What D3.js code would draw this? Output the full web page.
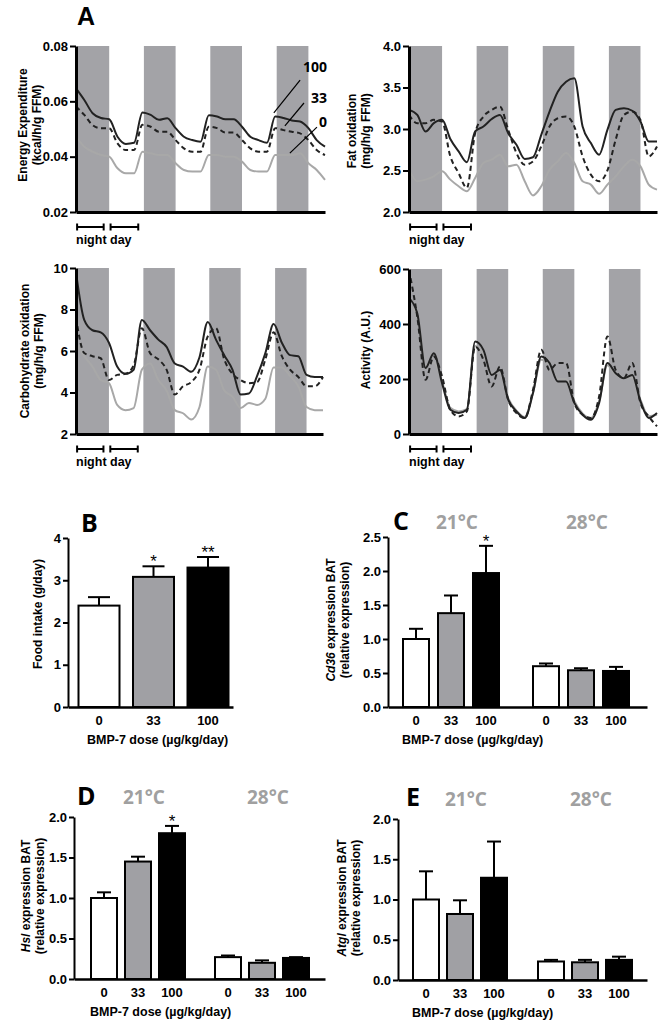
<!DOCTYPE html>
<html>
<head>
<meta charset="utf-8">
<script src="https://cdn.jsdelivr.net/npm/d3@7"></script>
<style>
  body { margin: 0; background: #fff; }
  svg text { font-family: 'Liberation Sans', Arial, sans-serif; font-weight: bold; }
</style>
</head>
<body>
<svg id="fig" width="664" height="1029"></svg>
<script>
// time grid (hours) and night periods
var hours = [0,3,6,9,12,15,18,21,24,27,30,33,36,39,42,45,48,51,54,57,60,63,66,69,72,75,78,81,84,87,90];
var nights = [0, 24, 48, 72];

// energy expenditure (kcal/h/g FFM)
var ee100 = [.0647,.0605,.0557,.0540,.0535,.0472,.0446,.0450,.0560,.0551,.0533,.0539,.0503,.0472,.0460,.0454,.0550,.0545,.0535,.0535,.0508,.0472,.0460,.0450,.0545,.0540,.0531,.0527,.0503,.0460,.0436];
var ee33  = [.0581,.0551,.0514,.0503,.0503,.0448,.0424,.0424,.0515,.0508,.0490,.0490,.0460,.0430,.0418,.0418,.0508,.0503,.0487,.0487,.0460,.0430,.0418,.0418,.0503,.0496,.0490,.0484,.0460,.0424,.0406];
var ee0   = [.0472,.0436,.0418,.0406,.0400,.0358,.0340,.0340,.0418,.0412,.0406,.0406,.0376,.0352,.0346,.0346,.0406,.0406,.0400,.0400,.0382,.0352,.0346,.0346,.0406,.0406,.0406,.0412,.0376,.0352,.0316];

// fat oxidation (mg/h/g FFM)
var fat100 = [3.23,3.17,2.97,3.07,3.11,2.88,2.73,2.60,2.97,3.03,3.12,3.17,2.95,2.81,2.64,2.66,2.93,3.21,3.45,3.57,3.61,3.03,2.83,2.69,2.99,3.23,3.25,3.22,3.09,2.85,2.85];
var fat33  = [3.17,3.07,3.07,3.11,3.09,2.67,2.47,2.29,2.95,3.15,3.23,3.27,2.99,2.71,2.57,2.61,2.79,3.03,3.13,3.15,3.03,2.67,2.45,2.37,2.50,2.87,3.17,3.21,3.11,2.67,2.79];
var fat0   = [2.51,2.37,2.39,2.43,2.49,2.39,2.31,2.25,2.41,2.59,2.63,2.69,2.55,2.57,2.37,2.20,2.31,2.51,2.61,2.71,2.59,2.37,2.33,2.22,2.33,2.43,2.55,2.63,2.55,2.33,2.27];

// carbohydrate oxidation (mg/h/g FFM)
var carb100 = [9.8,7.5,7.0,6.9,6.4,5.25,4.9,5.1,7.5,7.0,6.55,6.2,5.4,5.25,5.0,5.7,7.4,6.55,5.8,5.1,3.9,3.95,4.8,5.9,7.3,6.4,5.8,5.75,4.85,4.75,4.75];
var carb33  = [7.6,5.9,5.75,5.65,4.6,4.85,4.9,5.3,7.1,5.9,5.6,5.1,3.9,4.3,4.5,5.1,6.7,7.1,5.6,4.9,4.6,4.45,4.5,5.6,6.9,5.75,5.1,4.75,4.3,4.3,4.75];
var carb0   = [6.4,5.75,5.25,4.6,4.45,3.4,3.15,3.25,5.1,5.4,4.6,4.1,3.15,3.0,2.7,3.3,5.25,5.1,4.1,3.8,3.25,3.5,3.4,3.7,5.2,5.2,4.8,4.3,3.3,3.15,3.15];

// activity (A.U.)
var act100 = [494,439,240,294,185,88,76,88,336,306,215,233,125,82,58,149,282,258,191,191,113,70,52,113,258,221,203,215,119,58,76];
var act33  = [596,427,197,282,209,88,64,82,318,270,173,245,125,76,58,161,306,233,258,258,113,70,58,137,355,233,203,258,113,64,28];
var act0   = [470,430,250,260,190,95,82,90,320,290,220,225,130,85,62,150,270,250,200,200,120,75,58,120,250,215,205,205,125,65,70];

// bar charts
var doses = ["0", "33", "100"];
var temps = ["21°C", "28°C"];

var foodMean = [2.40, 3.08, 3.30];
var foodSem  = [0.20, 0.25, 0.25];
var foodStar = ["", "*", "**"];

var cd36Mean21 = [1.00, 1.38, 1.97], cd36Sem21 = [0.15, 0.26, 0.40], cd36Star21 = ["", "", "*"];
var cd36Mean28 = [0.60, 0.54, 0.53], cd36Sem28 = [0.04, 0.03, 0.06];

var hslMean21 = [1.00, 1.45, 1.80], hslSem21 = [0.07, 0.06, 0.09], hslStar21 = ["", "", "*"];
var hslMean28 = [0.27, 0.20, 0.26], hslSem28 = [0.02, 0.03, 0.01];

var atglMean21 = [1.00, 0.82, 1.27], atglSem21 = [0.35, 0.17, 0.45];
var atglMean28 = [0.23, 0.22, 0.25], atglSem28 = [0.02, 0.03, 0.04];

var svg = d3.select('#fig');
var BAND = '#a3a3a7', GREY_LINE = '#a8a8a8';
var barFills = ['#ffffff', '#a0a0a4', '#000000'];

function yLabel(lines, cx, cy, size) {
  var n = lines.length, gap = 14;
  lines.forEach(function(l, i) {
    var t = svg.append('text')
      .attr('transform', 'translate(' + (cx + (i - (n - 1) / 2) * gap) + ',' + cy + ') rotate(-90)')
      .attr('text-anchor', 'middle').attr('dy', '0.35em')
      .style('font-size', (size || 12) + 'px');
    if (typeof l === 'string') t.text(l);
    else l.forEach(function(p) {
      t.append('tspan').text(p[0]).style('font-style', p[1] ? 'italic' : null);
    });
  });
}

function letter(txt, x, y, size, fam) {
  svg.append('text').attr('x', x).attr('y', y).text(txt)
    .style('font-family', fam || "'Open Sans', sans-serif").style('font-weight', 700)
    .style('font-size', (size || 25) + 'px');
}

function styleAxis(g, w) {
  g.select('.domain').attr('stroke-width', w);
  g.selectAll('.tick line').attr('stroke-width', 2);
  g.selectAll('.tick text').style('font-size', '13px').attr('fill', '#000')
    .style('font-family', "'Liberation Sans', Arial, sans-serif").style('font-weight', 'bold');
}

function linePanel(o) {
  var x = d3.scaleLinear().domain([0, 90]).range([o.left, o.right]);
  var y = d3.scaleLinear().domain(o.domain).range([o.bottom, o.top]);
  var g = svg.append('g');

  g.selectAll('rect').data(nights).enter().append('rect')
    .attr('x', function(d) { return x(d) + 1.5; })
    .attr('width', function(d) { return x(d + 12) - x(d) - 1.5; })
    .attr('y', o.top).attr('height', o.bottom - o.top)
    .attr('fill', BAND);

  var line = d3.line()
    .x(function(d, i) { return x(hours[i]); })
    .y(function(d) { return y(d); })
    .curve(d3.curveMonotoneX);

  g.append('path').attr('d', line(o.s0)).attr('fill', 'none')
    .attr('stroke', GREY_LINE).attr('stroke-width', 2);
  g.append('path').attr('d', line(o.s33)).attr('fill', 'none')
    .attr('stroke', '#222').attr('stroke-width', 2).attr('stroke-dasharray', '5,3.5');
  g.append('path').attr('d', line(o.s100)).attr('fill', 'none')
    .attr('stroke', '#222').attr('stroke-width', 2);

  var ya = g.append('g').attr('transform', 'translate(' + o.left + ',0)')
    .call(d3.axisLeft(y).tickValues(o.ticks).tickFormat(o.fmt).tickSize(6).tickPadding(2).tickSizeOuter(0));
  styleAxis(ya, 3);
  var xa = g.append('g').attr('transform', 'translate(0,' + o.bottom + ')')
    .call(d3.axisBottom(x).tickValues([]).tickSizeOuter(0));
  styleAxis(xa, 3);

  // night / day scale bars
  var sy = o.bottom + 15;
  [[0.4, 10], [12.5, 22.5]].forEach(function(b) {
    g.append('line').attr('x1', x(b[0])).attr('x2', x(b[1])).attr('y1', sy).attr('y2', sy)
      .attr('stroke', '#000').attr('stroke-width', 2);
    [b[0], b[1]].forEach(function(e) {
      g.append('line').attr('x1', x(e)).attr('x2', x(e)).attr('y1', sy - 3.5).attr('y2', sy + 3.5)
        .attr('stroke', '#000').attr('stroke-width', 2);
    });
  });
  g.append('text').attr('x', x(0)).attr('y', o.bottom + 32).text('night day')
    .style('font-size', '12.5px');

  yLabel(o.label, o.labelX, o.labelY);
  return { x: x, y: y, g: g };
}

var pEE = linePanel({ left: 76, right: 325, top: 46, bottom: 212, domain: [0.02, 0.08],
  ticks: [0.02, 0.04, 0.06, 0.08], fmt: d3.format('.2f'),
  s100: ee100, s33: ee33, s0: ee0,
  label: ['Energy Expenditure', '(kcal/h/g FFM)'], labelX: 30, labelY: 125 });

linePanel({ left: 409, right: 657, top: 46, bottom: 212, domain: [2, 4],
  ticks: [2, 2.5, 3, 3.5, 4], fmt: d3.format('.1f'),
  s100: fat100, s33: fat33, s0: fat0,
  label: ['Fat oxidation', '(mg/h/g FFM)'], labelX: 359, labelY: 131 });

linePanel({ left: 76, right: 323, top: 268, bottom: 434, domain: [2, 10],
  ticks: [2, 4, 6, 8, 10], fmt: d3.format('d'),
  s100: carb100, s33: carb33, s0: carb0,
  label: ['Carbohydrate oxidation', '(mg/h/g FFM)'], labelX: 32, labelY: 351 });

linePanel({ left: 409, right: 657, top: 269, bottom: 434, domain: [0, 600],
  ticks: [0, 200, 400, 600], fmt: d3.format('d'),
  s100: act100, s33: act33, s0: act0,
  label: ['Activity (A.U.)'], labelX: 366, labelY: 350 });

// dose labels with leader lines in the energy expenditure panel
[{ t: '100', a: [71.5, 0.0558], b: [81, 0.0677], ty: 0.0706 },
 { t: '33',  a: [75.5, 0.0511], b: [82.4, 0.0594], ty: 0.0594 },
 { t: '0',   a: [77.3, 0.0413], b: [87.1, 0.0507], ty: 0.0507 }].forEach(function(d) {
  pEE.g.append('line')
    .attr('x1', pEE.x(d.a[0])).attr('y1', pEE.y(d.a[1]))
    .attr('x2', pEE.x(d.b[0])).attr('y2', pEE.y(d.b[1]))
    .attr('stroke', '#000').attr('stroke-width', 1.2);
  pEE.g.append('text').attr('x', pEE.x(90.7)).attr('y', pEE.y(d.ty))
    .attr('text-anchor', 'end').text(d.t)
    .style('font-family', "'Open Sans', sans-serif").style('font-weight', 700).style('font-size', '14px');
});

letter('A', 77, 25, 25, "'Liberation Sans', Arial, sans-serif");

function barPanel(o) {
  var y = d3.scaleLinear().domain(o.domain).range([o.bottom, o.top]);
  var xg = d3.scalePoint().domain(o.groups.map(function(g) { return g.name; })).range(o.groupRange);
  var xi = d3.scalePoint().domain(doses).range([-o.step, o.step]);
  var g = svg.append('g');

  o.groups.forEach(function(grp) {
    doses.forEach(function(dose, i) {
      var cx = xg(grp.name) + xi(dose);
      var top = y(grp.mean[i]), et = y(grp.mean[i] + grp.sem[i]);
      g.append('line').attr('x1', cx).attr('x2', cx).attr('y1', top).attr('y2', et)
        .attr('stroke', '#000').attr('stroke-width', 2);
      g.append('line').attr('x1', cx - o.cap / 2).attr('x2', cx + o.cap / 2).attr('y1', et).attr('y2', et)
        .attr('stroke', '#000').attr('stroke-width', 2);
      g.append('rect').attr('x', cx - o.bw / 2 + 1).attr('width', o.bw - 2)
        .attr('y', top).attr('height', o.bottom - top)
        .attr('fill', barFills[i]).attr('stroke', '#000').attr('stroke-width', 2);
      if (grp.star && grp.star[i]) {
        g.append('text').attr('x', cx).attr('y', et + 1).attr('text-anchor', 'middle')
          .text(grp.star[i]).style('font-weight', 'normal').style('font-size', '17px');
      }
      g.append('text').attr('x', cx).attr('y', o.bottom + 18).attr('text-anchor', 'middle')
        .text(dose).style('font-size', '13px');
    });
    if (o.showTemp) {
      g.append('text').attr('x', xg(grp.name) + 6).attr('y', o.tempY).attr('text-anchor', 'middle')
        .text(grp.name).attr('fill', '#a0a0a0')
        .style('font-family', "'Open Sans', sans-serif").style('font-weight', 700).style('font-size', '19px');
    }
  });

  var ya = g.append('g').attr('transform', 'translate(' + o.left + ',0)')
    .call(d3.axisLeft(y).tickValues(o.ticks).tickFormat(o.fmt).tickSize(5).tickPadding(2).tickSizeOuter(0));
  styleAxis(ya, 2);
  var xa = g.append('g').attr('transform', 'translate(0,' + o.bottom + ')')
    .call(d3.axisBottom(d3.scaleLinear().range([o.left, o.right])).tickValues([]).tickSizeOuter(0));
  styleAxis(xa, 2.5);

  g.append('text').attr('x', o.titleX).attr('y', o.bottom + 37).text('BMP-7 dose (µg/kg/day)')
    .style('font-size', '12.5px');
  yLabel(o.label, o.labelX, o.labelY);
  letter(o.letter[0], o.letter[1], o.letter[2]);
}

barPanel({ left: 68, right: 233, top: 538, bottom: 707, domain: [0, 4], ticks: [0, 1, 2, 3, 4],
  fmt: d3.format('d'), groups: [{ name: 'all', mean: foodMean, sem: foodSem, star: foodStar }],
  groupRange: [153.5, 153.5], step: 54.5, bw: 43, cap: 22, showTemp: false,
  titleX: 87, label: ['Food intake (g/day)'], labelX: 38, labelY: 614, letter: ['B', 81, 532] });

barPanel({ left: 388, right: 647, top: 537, bottom: 707, domain: [0, 2.5], ticks: [0, 0.5, 1, 1.5, 2, 2.5],
  fmt: d3.format('.1f'),
  groups: [{ name: temps[0], mean: cd36Mean21, sem: cd36Sem21, star: cd36Star21 },
           { name: temps[1], mean: cd36Mean28, sem: cd36Sem28 }],
  groupRange: [451, 581], step: 35, bw: 28, cap: 14, showTemp: true, tempY: 529,
  titleX: 402, label: [[['Cd36', true], [' expression BAT']], '(relative expression)'],
  labelX: 338, labelY: 620, letter: ['C', 393, 530] });

barPanel({ left: 74, right: 325, top: 817, bottom: 979, domain: [0, 2], ticks: [0, 0.5, 1, 1.5, 2],
  fmt: d3.format('.1f'),
  groups: [{ name: temps[0], mean: hslMean21, sem: hslSem21, star: hslStar21 },
           { name: temps[1], mean: hslMean28, sem: hslSem28 }],
  groupRange: [138, 262], step: 34, bw: 28, cap: 14, showTemp: true, tempY: 804,
  titleX: 90, label: [[['Hsl', true], [' expression BAT']], '(relative expression)'],
  labelX: 33, labelY: 896, letter: ['D', 77, 805] });

barPanel({ left: 398, right: 647, top: 819, bottom: 980, domain: [0, 2], ticks: [0, 0.5, 1, 1.5, 2],
  fmt: d3.format('.1f'),
  groups: [{ name: temps[0], mean: atglMean21, sem: atglSem21 },
           { name: temps[1], mean: atglMean28, sem: atglSem28 }],
  groupRange: [460, 585], step: 34, bw: 28, cap: 14, showTemp: true, tempY: 806,
  titleX: 412, label: [[['Atgl', true], [' expression BAT']], '(relative expression)'],
  labelX: 349, labelY: 898, letter: ['E', 406, 806] });
</script>
</body>
</html>
